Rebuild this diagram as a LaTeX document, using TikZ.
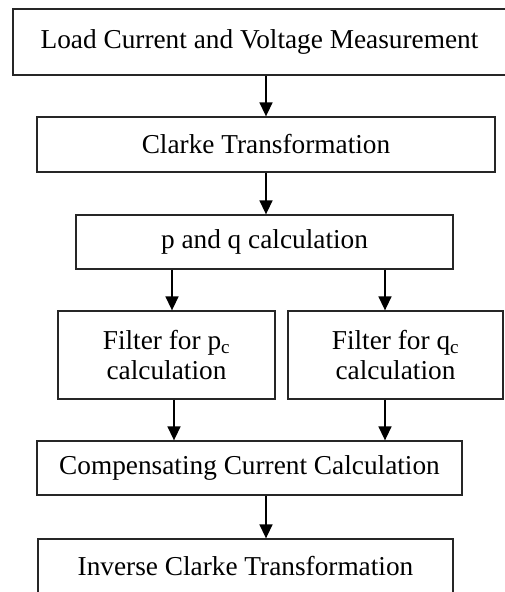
\documentclass[tikz,border=0pt]{standalone}
\usepackage{fontspec}
\setmainfont{Liberation Serif}
\usetikzlibrary{arrows.meta}

\tikzset{
  stepbox/.style={draw=black!85, line width=1.3pt, inner sep=0pt, align=center,
    font=\fontsize{27.3}{30}\selectfont},
  flow/.style={-{Triangle[width=13pt,length=14pt]}, line width=1.5pt}
}

\begin{document}
\begin{tikzpicture}[x=1pt, y=-1pt]
  \useasboundingbox (0,0) rectangle (504,592);
  % main chain
  \node[stepbox, minimum width=493pt, minimum height=66pt] (meas) at (259.5,42) {Load Current and Voltage Measurement};
  \node[stepbox, minimum width=458pt, minimum height=55pt] (clarke) at (266,144.5) {Clarke Transformation};
  \node[stepbox, minimum width=377pt, minimum height=54pt] (pq) at (264.5,242) {p and q calculation};
  % two filters
  \node[stepbox, minimum width=217pt, minimum height=88pt] (fp) at (166.5,355) {Filter for p\textsubscript{c}\\calculation};
  \node[stepbox, minimum width=215pt, minimum height=88pt] (fq) at (395.5,355) {Filter for q\textsubscript{c}\\calculation};
  % back to one
  \node[stepbox, minimum width=425pt, minimum height=54pt] (comp) at (249.5,468) {Compensating Current Calculation};
  \node[stepbox, minimum width=415pt, minimum height=55pt] (inv) at (245.5,566.5) {Inverse Clarke Transformation};
  % arrow columns
  \coordinate (mid) at (266,0);
  \coordinate (colp) at (172,0);
  \coordinate (colq) at (385,0);
  \coordinate (colpb) at (174,0);
  \draw[flow] (meas.south -| mid) -- (clarke.north -| mid);
  \draw[flow] (clarke.south -| mid) -- (pq.north -| mid);
  \draw[flow] (pq.south -| colp) -- (fp.north -| colp);
  \draw[flow] (pq.south -| colq) -- (fq.north -| colq);
  \draw[flow] (fp.south -| colpb) -- (comp.north -| colpb);
  \draw[flow] (fq.south -| colq) -- (comp.north -| colq);
  \draw[flow] (comp.south -| mid) -- (inv.north -| mid);
\end{tikzpicture}
\end{document}
